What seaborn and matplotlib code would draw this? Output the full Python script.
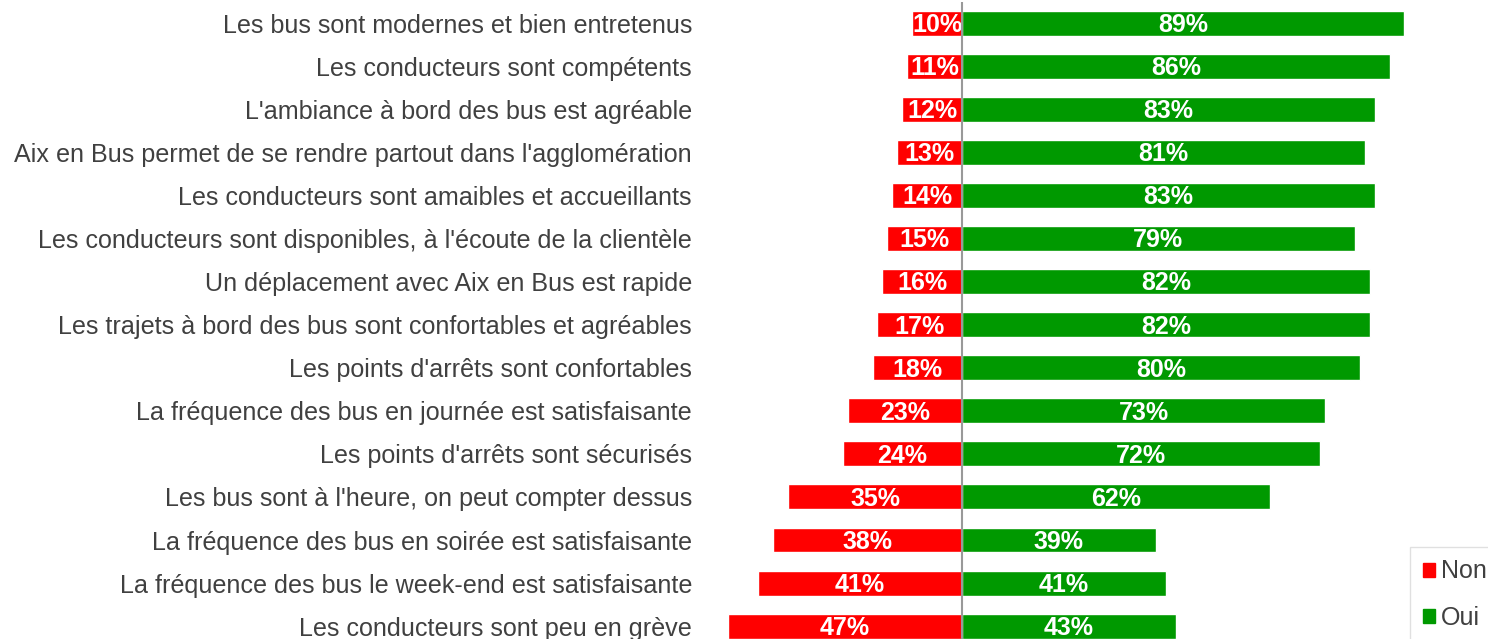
import matplotlib
matplotlib.use('Agg')
import matplotlib.pyplot as plt
import seaborn as sns
import pandas as pd
from matplotlib.patches import Patch
from matplotlib import font_manager as fm

# données
items = [
    "Les bus sont modernes et bien entretenus",
    "Les conducteurs sont compétents",
    "L'ambiance à bord des bus est agréable",
    "Aix en Bus permet de se rendre partout dans l'agglomération",
    "Les conducteurs sont amaibles et accueillants",
    "Les conducteurs sont disponibles, à l'écoute de la clientèle",
    "Un déplacement avec Aix en Bus est rapide",
    "Les trajets à bord des bus sont confortables et agréables",
    "Les points d'arrêts sont confortables",
    "La fréquence des bus en journée est satisfaisante",
    "Les points d'arrêts sont sécurisés",
    "Les bus sont à l'heure, on peut compter dessus",
    "La fréquence des bus en soirée est satisfaisante",
    "La fréquence des bus le week-end est satisfaisante",
    "Les conducteurs sont peu en grève",
]
non = [10, 11, 12, 13, 14, 15, 16, 17, 18, 23, 24, 35, 38, 41, 47]
oui = [89, 86, 83, 81, 83, 79, 82, 82, 80, 73, 72, 62, 39, 41, 43]

RED = '#FF0000'
GREEN = '#009900'
TXT = '#404040'

sns.set_style('white')
plt.rcParams['font.family'] = ['Liberation Sans', 'DejaVu Sans']

# police grasse normale (pas la version Narrow)
bold_file = fm.findfont(fm.FontProperties(family='Liberation Sans', weight='bold',
                                          stretch='normal'))
if 'Narrow' in bold_file:
    cands = [f for f in fm.findSystemFonts() if 'LiberationSans-Bold.ttf' in f]
    if cands:
        bold_file = cands[0]
bold_fp = fm.FontProperties(fname=bold_file, size=18)

df = pd.DataFrame({'item': items, 'non': [-v for v in non], 'oui': oui})

fig = plt.figure(figsize=(14.88, 6.39), dpi=100)
ax = fig.add_axes([700 / 1488, 0, 788 / 1488, 1 - 2 / 639])

sns.barplot(data=df, x='non', y='item', color=RED, width=0.58,
            saturation=1, orient='h', ax=ax)
sns.barplot(data=df, x='oui', y='item', color=GREEN, width=0.58,
            saturation=1, orient='h', ax=ax)

for i, (n, o) in enumerate(zip(non, oui)):
    ax.text(-n / 2, i + 0.04, f'{n}%', ha='center', va='center', color='white',
            fontproperties=bold_fp)
    ax.text(o / 2, i + 0.04, f'{o}%', ha='center', va='center', color='white',
            fontproperties=bold_fp)

ax.axvline(0, color='#999999', lw=1.5, zorder=5)
ax.set_xlim(-52.7, 105.8)
ax.set_ylim(14.3, -0.5)
ax.set_xlabel('')
ax.set_ylabel('')
ax.set_xticks([])
ax.tick_params(axis='y', length=0, pad=5.8, labelsize=18.1, labelcolor=TXT)
sns.despine(ax=ax, left=True, bottom=True)

handles = [Patch(color=RED, label='Non'), Patch(color=GREEN, label='Oui')]
leg = fig.legend(handles=handles, loc='upper left',
                 bbox_to_anchor=(1410 / 1488, 1 - 547 / 639),
                 frameon=True, fancybox=False, fontsize=18,
                 handlelength=0.5, handleheight=0.5, handletextpad=0.25,
                 labelspacing=0.9, borderpad=0.5, borderaxespad=0,
                 labelcolor=TXT)
leg.get_frame().set_edgecolor('#D9D9D9')

fig.savefig('out.png', dpi=100)
